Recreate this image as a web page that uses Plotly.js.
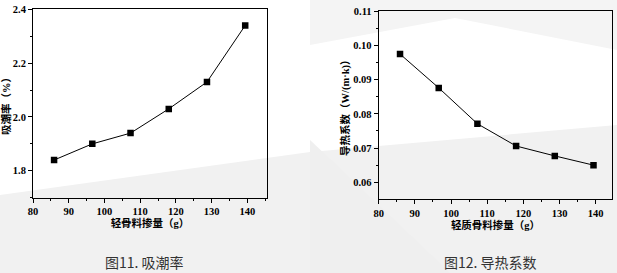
<!DOCTYPE html>
<html>
<head>
<meta charset="utf-8">
<script src="https://cdn.plot.ly/plotly-3.0.1.min.js"></script>
<style>html,body{margin:0;padding:0;background:#fff;}#chart{width:617px;height:273px;}</style>
</head>
<body>
<div id="chart"></div>
<script>
// Data
const aggregateAmount = [85.9, 96.6, 107.3, 118.0, 128.7, 139.4];   // 轻骨料掺量 (g)
const moistureAbsorption = [1.84, 1.90, 1.94, 2.03, 2.13, 2.34];      // 吸潮率 (%)
const thermalConductivity = [0.0975, 0.0876, 0.0771, 0.0706, 0.0677, 0.0650]; // 导热系数 W/(m·k)
const xTickVals = [80, 90, 100, 110, 120, 130, 140];
const leftYTicks = [1.8, 2.0, 2.2, 2.4];
const leftYLabels = ['1.8', '2.0', '2.2', '2.4'];
const rightYTicks = [0.06, 0.07, 0.08, 0.09, 0.10, 0.11];
const rightYLabels = ['0.06', '0.07', '0.08', '0.09', '0.10', '0.11'];
const captions = ['图11. 吸潮率', '图12. 导热系数'];
const xTitles = ['轻骨料掺量（g）', '轻质骨料掺量（g）'];
const yTitles = ['吸潮率（%）', '导热系数（W/(m·k)）'];

const W = 617, H = 273;
const px = x => x / W;
const py = y => 1 - y / H;

const tickFont = {family: 'Liberation Serif, serif', size: 10.5, color: '#000', weight: 700};
const titleFont = {family: 'Liberation Serif, Noto Sans CJK SC', size: 10.5, color: '#000', weight: 700};

const lineStyle = {color: '#000', width: 1};
const markerStyle = {symbol: 'square', size: 6.5, color: '#000'};

const traces = [
  {x: aggregateAmount, y: moistureAbsorption, xaxis: 'x', yaxis: 'y', mode: 'lines+markers',
   line: lineStyle, marker: markerStyle, hoverinfo: 'x+y'},
  {x: aggregateAmount, y: thermalConductivity, xaxis: 'x2', yaxis: 'y2', mode: 'lines+markers',
   line: lineStyle, marker: markerStyle, hoverinfo: 'x+y'}
];

function xAxis(domain, range, anchor, title) {
  return {domain, range, anchor, tickmode: 'array', tickvals: xTickVals, ticktext: xTickVals.map(String),
    showline: true, mirror: true, linecolor: '#000', linewidth: 1,
    ticks: 'outside', ticklen: 4, tickwidth: 1, tickcolor: '#000',
    minor: {dtick: 5, tick0: 80, ticks: 'outside', ticklen: 2, tickcolor: '#000', tickwidth: 1, showgrid: false},
    showgrid: false, zeroline: false, tickfont: tickFont,
    title: {text: title, font: titleFont, standoff: 3}};
}
function yAxis(domain, range, anchor, vals, labels, minorD, title, standoff) {
  return {domain, range, anchor, tickmode: 'array', tickvals: vals, ticktext: labels,
    showline: true, mirror: true, linecolor: '#000', linewidth: 1,
    ticks: 'outside', ticklen: 4, tickwidth: 1, tickcolor: '#000',
    minor: {dtick: minorD, ticks: 'outside', ticklen: 2, tickcolor: '#000', tickwidth: 1, showgrid: false},
    showgrid: false, zeroline: false, tickfont: tickFont,
    title: {text: title, font: titleFont, standoff: standoff}};
}

const shapes = [
  {type: 'path', xref: 'paper', yref: 'paper', layer: 'below', line: {width: 0}, fillcolor: '#f1f1f1',
   path: `M 0 ${py(195)} L ${px(310)} ${py(152)} L ${px(617)} ${py(125)} L ${px(617)} 0 L 0 0 Z`},
  {type: 'path', xref: 'paper', yref: 'paper', layer: 'below', line: {width: 0}, fillcolor: '#efefef',
   path: `M ${px(310)} ${py(140)} L ${px(450)} ${py(273)} L ${px(310)} ${py(273)} Z`},
  {type: 'path', xref: 'paper', yref: 'paper', layer: 'below', line: {width: 0}, fillcolor: '#f4f4f4',
   path: `M ${px(310)} ${py(0)} L ${px(617)} ${py(0)} L ${px(617)} ${py(50)} L ${px(455)} ${py(18)} L ${px(310)} ${py(45)} Z`}
];

const layout = {
  width: W, height: H,
  margin: {l: 0, r: 0, t: 0, b: 0},
  font: {family: 'Liberation Serif, serif', size: 11, color: '#000'},
  paper_bgcolor: '#ffffff', plot_bgcolor: 'rgba(0,0,0,0)',
  showlegend: false,
  xaxis: xAxis([px(33), px(267)], [80, 145.5], 'y', xTitles[0]),
  yaxis: yAxis([py(197.7), py(9.3)], [1.70, 2.40], 'x', leftYTicks, leftYLabels, 0.1, yTitles[0], 2),
  xaxis2: xAxis([px(378.7), px(612.3)], [80, 144.6], 'y2', xTitles[1]),
  yaxis2: yAxis([py(199), py(11.3)], [0.0551, 0.11], 'x2', rightYTicks, rightYLabels, 0.005, yTitles[1], 1),
  shapes,
  annotations: [
    {text: captions[0], xref: 'paper', yref: 'paper', x: px(144), y: py(262), showarrow: false,
     xanchor: 'center', yanchor: 'middle', font: {family: 'Noto Sans CJK SC', size: 14, color: '#333'}},
    {text: captions[1], xref: 'paper', yref: 'paper', x: px(490), y: py(262), showarrow: false,
     xanchor: 'center', yanchor: 'middle', font: {family: 'Noto Sans CJK SC', size: 14, color: '#333'}}
  ]
};

Plotly.newPlot('chart', traces, layout, {displayModeBar: false, staticPlot: true});
</script>
</body>
</html>
